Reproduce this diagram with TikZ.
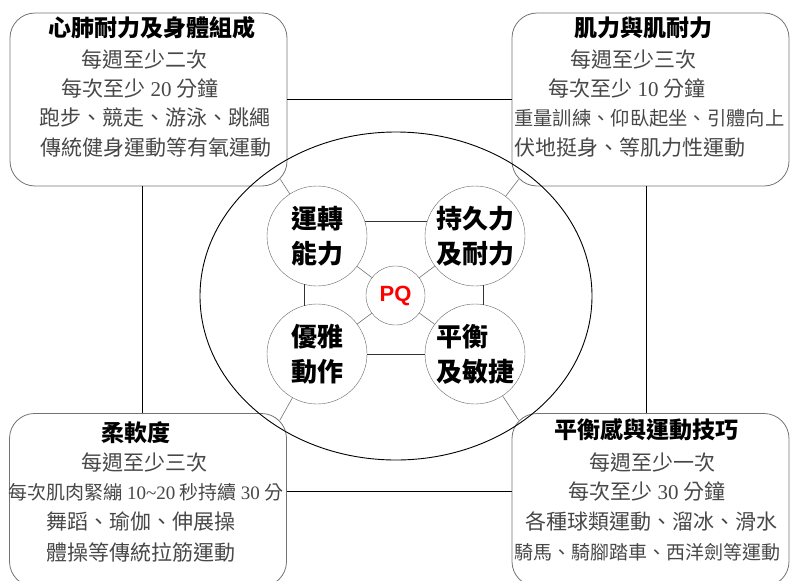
\documentclass[tikz,border=0pt]{standalone}
\usepackage{fontspec}
\setmainfont{Liberation Serif}
\setsansfont{Liberation Sans}
\newfontfamily\cjk{Noto Sans CJK TC}
\usepackage{tikz}
\usetikzlibrary{shapes.geometric, calc}
\newcommand\dig[1]{{\rmfamily #1}}
\tikzstyle{block} = [draw=black!55, line width=0.8pt, rounded corners=25pt,
    minimum width=277pt, minimum height=173pt]
\tikzstyle{head} = [inner sep=0pt, font=\cjk\bfseries\fontsize{23}{23}\selectfont]
\tikzstyle{body} = [inner sep=0pt, text=black!72, font=\cjk\fontsize{21}{21}\selectfont]
\tikzstyle{ring} = [circle, draw=black!60, minimum size=100pt, inner sep=0pt,
    align=center, font=\cjk\bfseries\fontsize{26}{35}\selectfont]
\tikzstyle{hub} = [circle, draw=black!60, minimum size=59pt, inner sep=0pt,
    text=red, font=\sffamily\bfseries\fontsize{22}{22}\selectfont]
\tikzstyle{link} = [draw, line width=0.8pt]
\tikzstyle{tie} = [draw, black!80, line width=0.7pt]
\tikzstyle{spoke} = [draw, black!55, line width=0.6pt]

\begin{document}
\begin{tikzpicture}[x=1pt, y=-1pt]
    \useasboundingbox (0,0) rectangle (790,581);
    % Place boxes
    \node [block] (cardio) at (148.5,99.5) {};
    \node [block] (muscle) at (650.5,99.5) {};
    \node [block] (flex) at (148,500) {};
    \node [block] (balance) at (650.5,500) {};
    % Box texts
    \node [head] (cardio-t) at (152,28) {心肺耐力及身體組成};
    \node [body] (cardio-1) at (144,59) {每週至少二次};
    \node [body] (cardio-2) at (140,89) {每次至少 \dig{20} 分鐘};
    \node [body] (cardio-3) at (155,118) {跑步、競走、游泳、跳繩};
    \node [body] (cardio-4) at (156,147) {傳統健身運動等有氧運動};
    \node [head] (muscle-t) at (643,28) {肌力與肌耐力};
    \node [body] (muscle-1) at (633,59) {每週至少三次};
    \node [body] (muscle-2) at (627,89) {每次至少 \dig{10} 分鐘};
    \node [body, anchor=west, font=\cjk\fontsize{19.3}{19.3}\selectfont] (muscle-3) at (514,118)
        {重量訓練、仰臥起坐、引體向上};
    \node [body, anchor=west] (muscle-4) at (514,147) {伏地挺身、等肌力性運動};
    \node [head] (flex-t) at (136,433) {柔軟度};
    \node [body] (flex-1) at (144,462) {每週至少三次};
    \node [body, font=\cjk\fontsize{19}{19}\selectfont] (flex-2) at (146,492)
        {每次肌肉緊繃 \dig{10\textasciitilde 20} 秒持續 \dig{30} 分};
    \node [body, anchor=west] (flex-3) at (46,522) {舞蹈、瑜伽、伸展操};
    \node [body, anchor=west] (flex-4) at (46,552) {體操等傳統拉筋運動};
    \node [head] (balance-t) at (646,430) {平衡感與運動技巧};
    \node [body] (balance-1) at (652,462) {每週至少一次};
    \node [body] (balance-2) at (647,492) {每次至少 \dig{30} 分鐘};
    \node [body] (balance-3) at (651,522) {各種球類運動、溜冰、滑水};
    \node [body, font=\cjk\fontsize{19}{19}\selectfont] (balance-4) at (647,552)
        {騎馬、騎腳踏車、西洋劍等運動};
    % Centre field
    \node [draw, ellipse, line width=0.9pt, minimum width=392pt, minimum height=328pt] (field) at (396,296) {};
    \node [ring] (mot) at (317,236) {運轉\\能力};
    \node [ring] (endu) at (475,236) {持久力\\及耐力};
    \node [ring] (grace) at (317,354) {優雅\\動作};
    \node [ring, align=left] (agile) at (475,354) {平衡\\及敏捷};
    \node [hub] (pq) at (395.5,295.5) {PQ};
    % Draw edges
    \path [link] (cardio) -- (muscle);
    \path [link] ([xshift=-6.5pt]cardio.south) -- ([xshift=-6pt]flex.north);
    \path [link] ([xshift=-4pt]muscle.south) -- ([xshift=-4pt]balance.north);
    \path [link] ([yshift=9pt]flex.east) -- ([yshift=9pt]balance.west);
    \path [tie] (mot.17) -- (endu.163);
    \path [tie] (grace) -- (agile);
    \path [tie] (mot.255) -- (grace.105);
    \path [tie] (endu.280) -- (agile.80);
    \path [spoke] (pq) -- (mot);
    \path [spoke] (pq) -- (endu);
    \path [spoke] (pq) -- (grace);
    \path [spoke] (pq) -- (agile);
    \path [spoke] (mot) -- ($(cardio.south east)+(-7,-7)$);
    \path [spoke] (endu) -- ($(muscle.south west)+(7,-7)$);
    \path [spoke] (grace) -- ($(flex.north east)+(-7,7)$);
    \path [spoke] (agile) -- ($(balance.north west)+(7,7)$);
\end{tikzpicture}
\end{document}
